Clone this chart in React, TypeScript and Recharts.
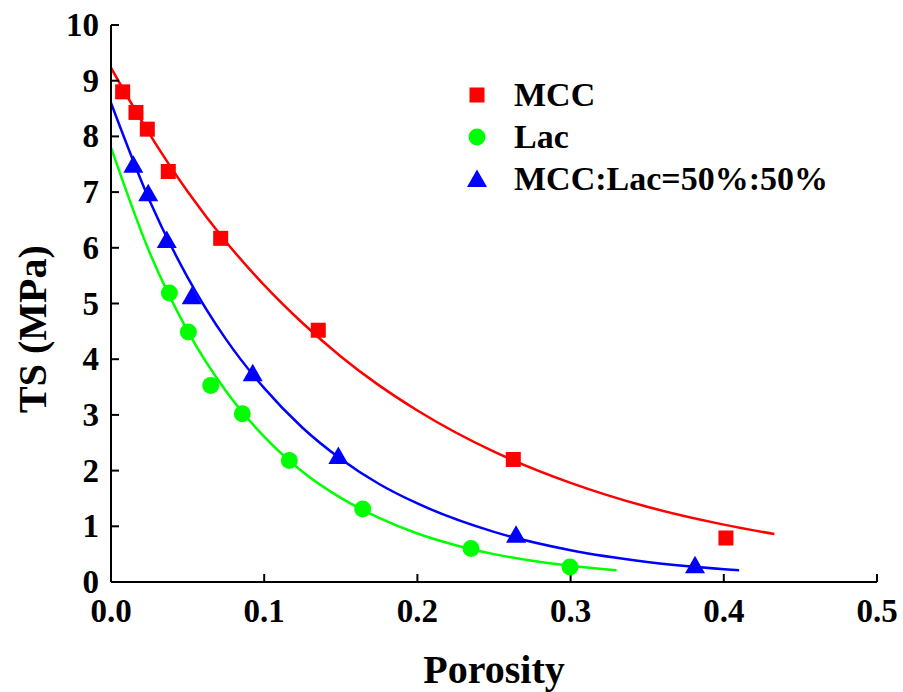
import React from 'react';
import { ComposedChart, Scatter, Line, XAxis, YAxis, Legend, Label } from 'recharts';

const FONT = 'Liberation Serif';

const seriesNames = ['MCC', 'Lac', 'MCC:Lac=50%:50%'];
const xTicks = [0, 0.1, 0.2, 0.3, 0.4, 0.5];
const yTicks = [0, 1, 2, 3, 4, 5, 6, 7, 8, 9, 10];

const mccX = [0.0076, 0.0163, 0.0237, 0.0374, 0.0716, 0.1353, 0.2626, 0.4014];
const mccY = [8.8, 8.43, 8.13, 7.37, 6.17, 4.52, 2.2, 0.79];
const lacX = [0.0381, 0.0505, 0.0651, 0.0857, 0.1164, 0.1643, 0.235, 0.2996];
const lacY = [5.19, 4.49, 3.53, 3.02, 2.18, 1.31, 0.6, 0.27];
const mixX = [0.0146, 0.0243, 0.0364, 0.0527, 0.0925, 0.1484, 0.2644, 0.3812];
const mixY = [7.49, 6.98, 6.14, 5.13, 3.75, 2.26, 0.85, 0.3];

const mccFitX = [0, 0.025, 0.05, 0.075, 0.1, 0.125, 0.15, 0.175, 0.2, 0.25, 0.3, 0.35, 0.4, 0.433];
const mccFitY = [9.23, 8.05, 7.01, 6.11, 5.33, 4.65, 4.05, 3.53, 3.08, 2.34, 1.78, 1.35, 1.03, 0.86];
const lacFitX = [0, 0.025, 0.05, 0.075, 0.1, 0.125, 0.15, 0.175, 0.2, 0.225, 0.25, 0.275, 0.3, 0.33];
const lacFitY = [7.8, 5.93, 4.51, 3.43, 2.61, 1.98, 1.51, 1.15, 0.87, 0.66, 0.5, 0.38, 0.29, 0.21];
const mixFitX = [0, 0.025, 0.05, 0.075, 0.1, 0.125, 0.15, 0.175, 0.2, 0.25, 0.3, 0.35, 0.41];
const mixFitY = [8.6, 6.86, 5.47, 4.36, 3.48, 2.77, 2.21, 1.76, 1.41, 0.9, 0.57, 0.36, 0.21];

const zip = (xs: number[], ys: number[]) => xs.map((x, i) => ({ x, y: ys[i] }));

const mccData = zip(mccX, mccY);
const lacData = zip(lacX, lacY);
const mixData = zip(mixX, mixY);
const mccFit = zip(mccFitX, mccFitY);
const lacFit = zip(lacFitX, lacFitY);
const mixFit = zip(mixFitX, mixFitY);

const RED = '#ff0000';
const GREEN = '#00ff00';
const BLUE = '#0000ff';

const SquareShape = (p: any) => (
  <rect x={p.cx - 7.5} y={p.cy - 7.5} width={15} height={15} fill={RED} />
);
const CircleShape = (p: any) => <circle cx={p.cx} cy={p.cy} r={8.5} fill={GREEN} />;
const TriShape = (p: any) => (
  <polygon
    points={`${p.cx},${p.cy - 9.5} ${p.cx - 10},${p.cy + 8} ${p.cx + 10},${p.cy + 8}`}
    fill={BLUE}
  />
);

const markerFor = (name: string, cx: number, cy: number) => {
  if (name === seriesNames[0]) return <SquareShape cx={cx} cy={cy} />;
  if (name === seriesNames[1]) return <CircleShape cx={cx} cy={cy} />;
  return <TriShape cx={cx} cy={cy} />;
};

const LegendContent = (props: any) => {
  const items = (props.payload || [])
    .filter((p: any) => seriesNames.includes(p.value))
    .sort((a: any, b: any) => seriesNames.indexOf(a.value) - seriesNames.indexOf(b.value));
  return (
    <svg width={400} height={135}>
      {items.map((it: any, i: number) => (
        <g key={it.value}>
          {markerFor(it.value, 17, 25 + i * 42)}
          <text x={54} y={36 + i * 42} fontFamily={FONT} fontWeight="bold" fontSize={34} fill="#000">
            {it.value}
          </text>
        </g>
      ))}
    </svg>
  );
};

const XTick = (p: any) => (
  <text x={p.x} y={p.y} dy={26} textAnchor="middle" fontFamily={FONT} fontWeight="bold" fontSize={33} fill="#000">
    {Number(p.payload.value).toFixed(1)}
  </text>
);

const YTick = (p: any) => (
  <text x={p.x} y={p.y} dy={11} textAnchor="end" fontFamily={FONT} fontWeight="bold" fontSize={33} fill="#000">
    {p.payload.value}
  </text>
);

const axisLine = { stroke: '#000', strokeWidth: 2 };
const tickLine = { stroke: '#000', strokeWidth: 2 };

export default function App() {
  return (
    <div style={{ position: 'absolute', left: 0, top: 0, background: '#fff' }}>
      <ComposedChart
        width={903}
        height={692}
        margin={{ top: 25, right: 26, left: 0, bottom: 0 }}
      >
        <XAxis
          type="number"
          dataKey="x"
          domain={[0, 0.5]}
          ticks={xTicks}
          allowDataOverflow
          height={110}
          tickSize={-8}
          tickMargin={22}
          tick={<XTick />}
          axisLine={axisLine}
          tickLine={tickLine}
        >
          <Label
            content={() => (
              <text x={494} y={683} textAnchor="middle" fontFamily={FONT} fontWeight="bold" fontSize={40} fill="#000">
                Porosity
              </text>
            )}
          />
        </XAxis>
        <XAxis
          xAxisId="top"
          orientation="top"
          type="number"
          dataKey="x"
          domain={[0, 0.5]}
          ticks={xTicks}
          allowDataOverflow
          height={0}
          tickSize={-8}
          tickFormatter={() => ''}
          axisLine={axisLine}
          tickLine={tickLine}
        />
        <YAxis
          type="number"
          dataKey="y"
          domain={[0, 10]}
          ticks={yTicks}
          allowDataOverflow
          width={111}
          tickSize={-8}
          tickMargin={20}
          tick={<YTick />}
          axisLine={axisLine}
          tickLine={tickLine}
        >
          <Label
            content={() => (
              <text
                x={33}
                y={329}
                transform="rotate(-90 33 329)"
                textAnchor="middle"
                dy={13}
                fontFamily={FONT}
                fontWeight="bold"
                fontSize={40}
                fill="#000"
              >
                TS (MPa)
              </text>
            )}
          />
        </YAxis>
        <YAxis
          yAxisId="right"
          orientation="right"
          type="number"
          dataKey="y"
          domain={[0, 10]}
          ticks={yTicks}
          allowDataOverflow
          width={0}
          tickSize={-8}
          tickFormatter={() => ''}
          axisLine={axisLine}
          tickLine={tickLine}
        />
        <Line data={mccFit} dataKey="y" type="monotone" stroke={RED} strokeWidth={2.5} dot={false} legendType="none" isAnimationActive={false} />
        <Line data={lacFit} dataKey="y" type="monotone" stroke={GREEN} strokeWidth={2.5} dot={false} legendType="none" isAnimationActive={false} />
        <Line data={mixFit} dataKey="y" type="monotone" stroke={BLUE} strokeWidth={2.5} dot={false} legendType="none" isAnimationActive={false} />
        <Scatter name={seriesNames[0]} data={mccData} dataKey="y" fill={RED} shape={SquareShape} isAnimationActive={false} />
        <Scatter name={seriesNames[1]} data={lacData} dataKey="y" fill={GREEN} shape={CircleShape} isAnimationActive={false} />
        <Scatter name={seriesNames[2]} data={mixData} dataKey="y" fill={BLUE} shape={TriShape} isAnimationActive={false} />
        <Legend
          layout="vertical"
          align="center"
          verticalAlign="middle"
          content={LegendContent}
          wrapperStyle={{ position: 'absolute', left: 460, top: 70, width: 400, height: 135 }}
        />
      </ComposedChart>
    </div>
  );
}
